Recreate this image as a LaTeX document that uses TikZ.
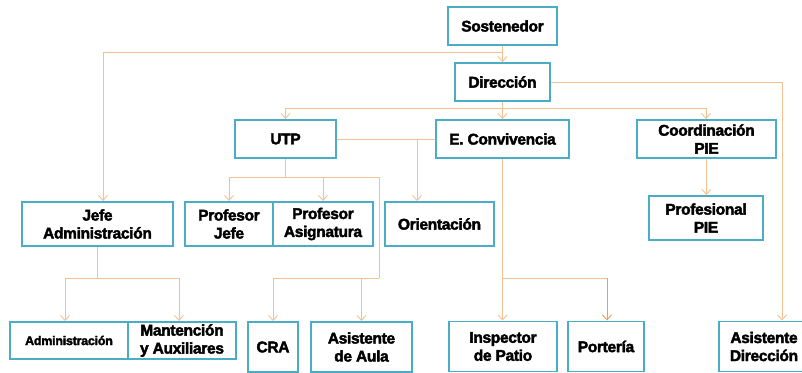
\documentclass[tikz,border=0pt]{standalone}
\usepackage{fontspec}
\setmainfont{Liberation Sans}
\newfontfamily\heavyfont{Liberation Sans Bold}[FakeBold=2.5, LetterSpace=-2]
\usetikzlibrary{arrows.meta}
\definecolor{boxclr}{RGB}{75,172,198}
\definecolor{lineclr}{RGB}{245,192,145}
\definecolor{lineclrB}{RGB}{240,155,85}
\tikzset{
  orgbox/.style={draw=boxclr, line width=1.9pt, fill=white, align=center, inner sep=0pt,
    font=\heavyfont\fontsize{15.5}{18}\selectfont, text=black},
  conn/.style={draw=lineclr, line width=1pt},
  arr/.style={conn, -{Straight Barb[length=5pt,width=9pt,line width=0.9pt]}},
}
\begin{document}
\begin{tikzpicture}[x=1pt,y=-1pt]
\useasboundingbox (0,0) rectangle (802,372);
% boxes
\node[orgbox, minimum width=109pt, minimum height=38pt] (sost) at (502.5,26) {Sostenedor};
\node[orgbox, minimum width=95pt, minimum height=38pt] (dir) at (502.5,82) {Dirección};
\node[orgbox, minimum width=101pt, minimum height=38pt] (utp) at (285.5,139) {UTP};
\node[orgbox, minimum width=133pt, minimum height=38pt] (conv) at (502.5,139) {E. Convivencia};
\node[orgbox, minimum width=139pt, minimum height=38pt] (coord) at (706.5,139) {Coordinación\\PIE};
\node[orgbox, minimum width=151pt, minimum height=44pt] (jadm) at (97.5,224) {Jefe\\Administración};
\node[orgbox, minimum width=88pt, minimum height=44pt] (pjefe) at (229,224) {Profesor\\Jefe};
\node[orgbox, minimum width=100pt, minimum height=44pt] (pasig) at (323,224) {Profesor\\Asignatura};
\node[orgbox, minimum width=109pt, minimum height=44pt] (orie) at (439.5,224) {Orientación};
\node[orgbox, minimum width=114pt, minimum height=44pt] (ppie) at (706,218) {Profesional\\PIE};
\node[orgbox, minimum width=118pt, minimum height=37pt, font=\heavyfont\fontsize{12.5}{14}\selectfont] (adm) at (69,340.5) {Administración};
\node[orgbox, minimum width=108pt, minimum height=37pt] (mant) at (182,340.5) {Mantención\\y Auxiliares};
\node[orgbox, minimum width=50pt, minimum height=50pt] (cra) at (273,347) {CRA};
\node[orgbox, minimum width=101pt, minimum height=50pt] (asau) at (361.5,347) {Asistente\\de Aula};
\node[orgbox, minimum width=108pt, minimum height=50pt] (insp) at (503,346.5) {Inspector\\de Patio};
\node[orgbox, minimum width=76pt, minimum height=50pt] (port) at (606,346.5) {Portería};
\node[orgbox, minimum width=90pt, minimum height=50pt] (asdir) at (764,346.5) {Asistente\\Dirección};
% helper coordinates
\coordinate (b1) at (502.5,52);
\coordinate (b2) at (502.5,108);
\coordinate (b3) at (285.5,177);
\coordinate (b4) at (379,278);
\coordinate (b5) at (97.5,278);
\coordinate (b6) at (502.5,278);
\coordinate (b7) at (607,278);
\coordinate (b8) at (417,139);
% connectors
\draw[arr] (sost.south) -- (dir.north);
\draw[arr] (b1) -| ([xshift=5.5pt]jadm.north);
\draw[arr] (dir.east) -| ([xshift=18pt]asdir.north);
\draw[conn] (dir.south) -- (b2);
\draw[arr] (b2) -| (utp.north);
\draw[arr] (b2) -- (conv.north);
\draw[arr] (b2) -| ([xshift=-0.5pt]coord.north);
\draw[conn] (utp.east) -- (conv.west);
\draw[arr] (b8) -- (b8 |- orie.north);
\draw[conn] (utp.south) -- (b3);
\draw[arr] (b3) -| (pjefe.north);
\draw[arr] (b3) -| (pasig.north);
\draw[conn] (b3) -| (b4);
\draw[arr] (b4) -| (cra.north);
\draw[arr] (b4 -| asau.north) -- (asau.north);
\draw[conn] (jadm.south) -- (b5);
\draw[arr] (b5) -| ([xshift=-4pt]adm.north);
\draw[arr] (b5) -| ([xshift=-3pt]mant.north);
\draw[arr] (conv.south) -- ([xshift=-0.5pt]insp.north);
\draw[conn] (b6) -- (b7);
\draw[arr, draw=lineclrB] (b7) -- (b7 |- port.north);
\draw[arr] (coord.south) -- (coord.south |- ppie.north);
\end{tikzpicture}
\end{document}
